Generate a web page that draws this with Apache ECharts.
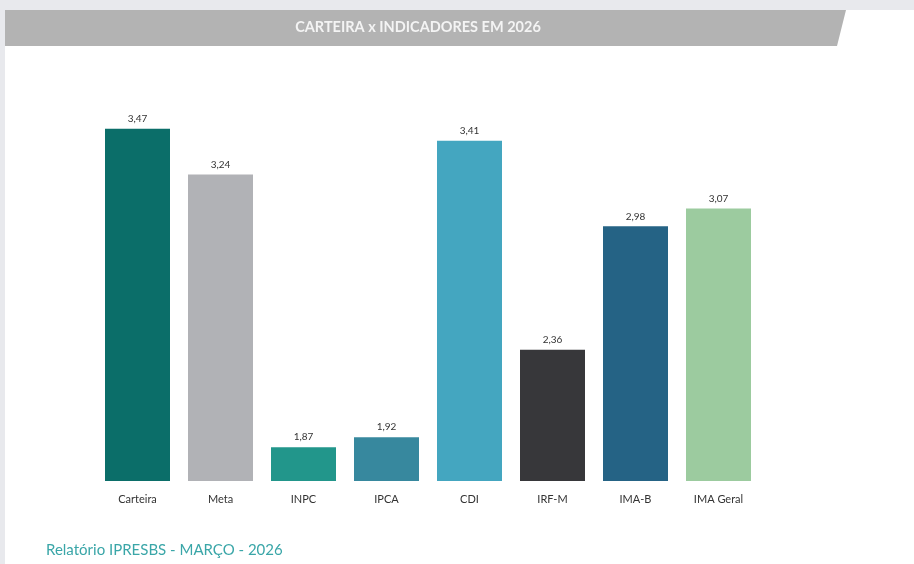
<!DOCTYPE html>
<html>
<head>
<meta charset="utf-8">
<script src="https://cdn.jsdelivr.net/npm/echarts@6/dist/echarts.min.js"></script>
<style>
  html, body { margin: 0; padding: 0; background: #fff; }
  #chart { width: 914px; height: 564px; }
</style>
</head>
<body>
<div id="chart"></div>
<script>
const categories = ['Carteira', 'Meta', 'INPC', 'IPCA', 'CDI', 'IRF-M', 'IMA-B', 'IMA Geral'];
const values = [3.47, 3.24, 1.87, 1.92, 3.41, 2.36, 2.98, 3.07];
const barColors = ['#0b6e69', '#b1b2b6', '#22968b', '#37889e', '#44a6c0', '#37373a', '#256385', '#9ccb9f'];

const chart = echarts.init(document.getElementById('chart'));

const option = {
  animation: false,
  backgroundColor: '#fff',
  grid: { left: 96, right: 154, top: 103, bottom: 83 },
  xAxis: {
    type: 'category',
    data: categories,
    axisLine: { show: false },
    axisTick: { show: false },
    axisLabel: {
      color: '#333',
      fontFamily: 'Lato',
      fontSize: 11,
      margin: 13
    }
  },
  yAxis: {
    type: 'value',
    min: 1.7,
    max: 3.6,
    show: false
  },
  series: [
    {
      type: 'bar',
      barWidth: 65,
      data: values.map((v, i) => ({ value: v, itemStyle: { color: barColors[i] } })),
      label: {
        show: true,
        position: 'top',
        distance: 5,
        color: '#333',
        fontFamily: 'Lato',
        fontSize: 10,
        formatter: (p) => p.value.toFixed(2).replace('.', ',')
      }
    }
  ],
  graphic: [
    // page background strips
    { type: 'rect', shape: { x: 0, y: 0, width: 914, height: 10 }, style: { fill: '#e8e9ed' }, silent: true },
    { type: 'rect', shape: { x: 0, y: 0, width: 5, height: 564 }, style: { fill: '#e8e9ed' }, silent: true },
    // title banner
    {
      type: 'polygon',
      shape: { points: [[5, 10], [846, 10], [837, 46], [5, 46]] },
      style: { fill: '#b3b3b3' },
      silent: true
    },
    {
      type: 'text',
      x: 418,
      y: 27,
      style: {
        text: 'CARTEIRA x INDICADORES EM 2026',
        fill: '#f4f4f4',
        font: 'bold 14.5px Lato',
        align: 'center',
        verticalAlign: 'middle'
      },
      silent: true
    },
    {
      type: 'text',
      x: 46,
      y: 550,
      style: {
        text: 'Relatório IPRESBS - MARÇO - 2026',
        fill: '#3aa6a8',
        font: '15px Lato',
        verticalAlign: 'middle'
      },
      silent: true
    }
  ]
};

chart.setOption(option);
</script>
</body>
</html>
